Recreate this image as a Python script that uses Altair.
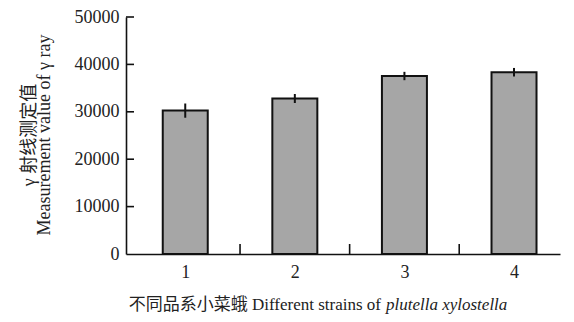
import altair as alt
import pandas as pd

# ---- data ----
strains = [1, 2, 3, 4]
means = [30250, 32800, 37550, 38350]
errors = [1500, 950, 880, 900]
y_ticks = [0, 10000, 20000, 30000, 40000, 50000]
x_sep_ticks = [1.5, 2.5, 3.5]
y_title_lines = ["γ 射线测定值", "Measurement value of γ ray"]
x_title_plain = "不同品系小菜蛾 Different strains of"
x_title_italic = "plutella xylostella"

SERIF = "'Liberation Serif', 'Noto Sans CJK SC', serif"
W, H = 434, 237
TOP = 9

df = pd.DataFrame({
    "strain": strains,
    "mean": means,
    "lo": [m - e for m, e in zip(means, errors)],
    "hi": [m + e for m, e in zip(means, errors)],
})

xs = alt.Scale(domain=[0.505, 4.374], nice=False, zero=False)
ys = alt.Scale(domain=[0, 50000], nice=False)

xaxis = alt.Axis(
    values=strains, ticks=False, grid=False, title=None, format="d",
    labelFont=SERIF, labelFontSize=18, labelColor="#222222", labelPadding=9,
    domainColor="#111111", domainWidth=1.6)
yaxis = alt.Axis(
    values=y_ticks, ticks=False, grid=False, title=None, format="d",
    labelFont=SERIF, labelFontSize=18, labelColor="#222222", labelPadding=7,
    domainColor="#111111", domainWidth=1.6)

bars = alt.Chart(df).mark_bar(size=45, color="#a6a6a6", stroke="#111111", strokeWidth=2).encode(
    x=alt.X("strain:Q", scale=xs, axis=xaxis),
    y=alt.Y("mean:Q", scale=ys, axis=yaxis),
)

err = alt.Chart(df).mark_rule(color="#111111", strokeWidth=2).encode(
    x=alt.X("strain:Q", scale=xs, axis=xaxis),
    y=alt.Y("lo:Q", scale=ys, axis=yaxis),
    y2="hi:Q",
)

ytk = alt.Chart(pd.DataFrame({"v": y_ticks[1:]})).mark_rule(color="#111111", strokeWidth=1.6).encode(
    y=alt.Y("v:Q", scale=ys, axis=yaxis),
    x=alt.value(0), x2=alt.value(8),
)

xtk = alt.Chart(pd.DataFrame({"b": x_sep_ticks})).mark_rule(color="#111111", strokeWidth=1.6).encode(
    x=alt.X("b:Q", scale=xs, axis=xaxis),
    y=alt.value(H - 10), y2=alt.value(H),
)

ytitle1 = alt.Chart(pd.DataFrame({"t": [y_title_lines[0]]})).mark_text(
    angle=270, align="center", baseline="middle", font=SERIF, fontSize=18, color="#222222"
).encode(text="t:N", x=alt.value(-96), y=alt.value(118))

ytitle2 = alt.Chart(pd.DataFrame({"t": [y_title_lines[1]]})).mark_text(
    angle=270, align="center", baseline="middle", font=SERIF, fontSize=18, color="#222222"
).encode(text="t:N", x=alt.value(-81), y=alt.value(118))

xtitle1 = alt.Chart(pd.DataFrame({"t": [x_title_plain]})).mark_text(
    align="right", baseline="middle", font=SERIF, fontSize=17, color="#222222"
).encode(text="t:N", x=alt.value(255), y=alt.value(288))

xtitle2 = alt.Chart(pd.DataFrame({"t": [x_title_italic]})).mark_text(
    align="left", baseline="middle", font=SERIF, fontSize=17, fontStyle="italic", color="#222222"
).encode(text="t:N", x=alt.value(260), y=alt.value(288))

chart = alt.layer(bars, err, ytk, xtk, ytitle1, ytitle2, xtitle1, xtitle2).properties(
    width=W, height=H,
    autosize=alt.AutoSizeParams(type="none"),
    padding={"left": 118, "top": TOP, "right": 6, "bottom": 306 - TOP - H},
    background="white",
).configure_view(stroke=None)

chart.save("out.html", embed_options={"renderer": "svg", "actions": False})
